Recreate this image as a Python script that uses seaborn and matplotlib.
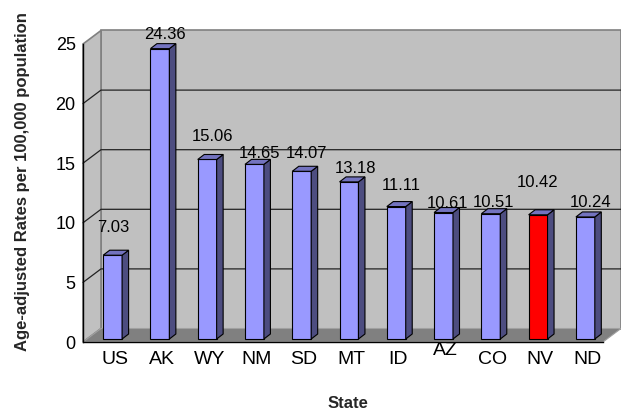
import numpy as np
import pandas as pd
import matplotlib
matplotlib.use("Agg")
import matplotlib.pyplot as plt
import matplotlib.transforms as mtransforms
from matplotlib.patches import Polygon
from matplotlib.lines import Line2D
import seaborn as sns

# ---- data -------------------------------------------------------------
states = ["US", "AK", "WY", "NM", "SD", "MT", "ID", "AZ", "CO", "NV", "ND"]
rates = [7.03, 24.36, 15.06, 14.65, 14.07, 13.18, 11.11, 10.61, 10.51, 10.42, 10.24]
highlight_state = "NV"
y_ticks = [0, 5, 10, 15, 20, 25]

# ---- layout helpers (pixels) -----------------------------------------
# nudge of each value label from its category centre / value height
value_label_nudge = [(7, 31), (11, 17), (11, 26), (11, 14), (11, 21), (12, 16),
                     (11, 24), (10, 12), (9, 14), (5, 35), (11, 17)]
raised_tick = {"AZ": 9}

WALL_DX, WALL_DY = 18, 13.5      # depth of the chart box
FRONT_DX, FRONT_DY = 6, 3        # bar front face sits inside the box
BAR_DX, BAR_DY = 6.5, 5          # bar depth

BAR_FACE = "#9999FF"
BAR_SIDE = "#4D4D80"
BAR_TOP = "#7373BF"
HILITE = "#FF0000"
WALL = "#C0C0C0"
FLOOR = "#808080"

sns.set_style("white")
plt.rcParams["font.family"] = ["Liberation Sans", "DejaVu Sans"]

fig = plt.figure(figsize=(6.21, 4.11), dpi=100)
fig.patch.set_facecolor("white")
ax = fig.add_axes([83 / 621, 69 / 411, 520 / 621, 298 / 411])
ax.set_facecolor("none")

df = pd.DataFrame({"State": states, "Rate": rates})
palette = {s: (HILITE if s == highlight_state else BAR_FACE) for s in states}
sns.barplot(data=df, x="State", y="Rate", hue="State", palette=palette,
            legend=False, width=0.4, saturation=1, edgecolor="black",
            linewidth=0.8, ax=ax, zorder=3)
bars = sorted(list(ax.patches), key=lambda p: p.get_x())

ax.set_xlim(-0.5, len(states) - 0.5)
ax.set_ylim(y_ticks[0], y_ticks[-1])


def px_shift(dx, dy):
    return mtransforms.ScaledTranslation(dx / 100, dy / 100, fig.dpi_scale_trans)


ident = mtransforms.IdentityTransform()
to_disp = ax.transData.transform

# ---- walls and floor --------------------------------------------------
x_l, y_b = to_disp((-0.5, y_ticks[0]))
x_r, y_t = to_disp((len(states) - 0.5, y_ticks[-1]))

back_wall = Polygon([(x_l + WALL_DX, y_b + WALL_DY), (x_r + WALL_DX, y_b + WALL_DY),
                     (x_r + WALL_DX, y_t + WALL_DY), (x_l + WALL_DX, y_t + WALL_DY)],
                    closed=True, fc=WALL, ec="#808080", lw=1.2, transform=ident,
                    clip_on=False, zorder=0.2)
side_wall = Polygon([(x_l, y_b), (x_l + WALL_DX, y_b + WALL_DY),
                     (x_l + WALL_DX, y_t + WALL_DY), (x_l, y_t)],
                    closed=True, fc=WALL, ec="#808080", lw=1.2, transform=ident,
                    clip_on=False, zorder=0.2)
floor = Polygon([(x_l, y_b), (x_r, y_b), (x_r + WALL_DX, y_b + WALL_DY),
                 (x_l + WALL_DX, y_b + WALL_DY)],
                closed=True, fc=FLOOR, ec="#A0A0A0", lw=0.8, transform=ident,
                clip_on=False, zorder=0.4)
for p in (back_wall, side_wall, floor):
    ax.add_patch(p)

for v in y_ticks[1:-1]:
    y = to_disp((0, v))[1]
    ax.add_line(Line2D([x_l, x_l + WALL_DX, x_r + WALL_DX],
                       [y, y + WALL_DY, y + WALL_DY],
                       color="#222222", lw=0.9, transform=ident,
                       clip_on=False, zorder=0.3))

# ---- 3-D bars ---------------------------------------------------------
for bar in bars:
    x0, w, h = bar.get_x(), bar.get_width(), bar.get_height()
    bar.set_transform(ax.transData + px_shift(FRONT_DX, FRONT_DY))
    bar.set_clip_on(False)
    X0, Y0 = to_disp((x0, 0)) + np.array([FRONT_DX, FRONT_DY])
    X1, Y1 = to_disp((x0 + w, h)) + np.array([FRONT_DX, FRONT_DY])
    side = Polygon([(X1, Y0), (X1 + BAR_DX, Y0 + BAR_DY),
                    (X1 + BAR_DX, Y1 + BAR_DY), (X1, Y1)],
                   closed=True, fc=BAR_SIDE, ec="black", lw=0.8,
                   transform=ident, clip_on=False, zorder=3)
    top = Polygon([(X0, Y1), (X1, Y1), (X1 + BAR_DX, Y1 + BAR_DY),
                   (X0 + BAR_DX, Y1 + BAR_DY)],
                  closed=True, fc=BAR_TOP, ec="black", lw=0.8,
                  transform=ident, clip_on=False, zorder=3)
    ax.add_patch(side)
    ax.add_patch(top)

# ---- value labels -----------------------------------------------------
for i, (v, (ndx, ndy)) in enumerate(zip(rates, value_label_nudge)):
    ax.annotate(f"{v:.2f}", xy=(i, v), xytext=(ndx * 0.72, ndy * 0.72),
                textcoords="offset points", ha="center", va="center",
                fontsize=12, color="black", zorder=5, annotation_clip=False)

# ---- axes -------------------------------------------------------------
for s in ("top", "right"):
    ax.spines[s].set_visible(False)
for s in ("left", "bottom"):
    ax.spines[s].set_color("black")
    ax.spines[s].set_linewidth(1.0)
    ax.spines[s].set_zorder(4)

ax.set_yticks(y_ticks)
ax.tick_params(axis="y", length=4.3, width=0.8, direction="out", pad=1,
               labelsize=13, colors="black")
ax.set_xticks(range(len(states)))
ax.set_xticklabels(states)
ax.set_xticks(np.arange(-0.5, len(states), 1.0), minor=True)
ax.tick_params(axis="x", which="major", length=0, pad=6.5, labelsize=14,
               colors="black")
ax.tick_params(axis="x", which="minor", length=3.6, width=0.8,
               direction="out", colors="black")
for lab in ax.get_xticklabels():
    lift = raised_tick.get(lab.get_text(), 0)
    lab.set_transform(lab.get_transform() + px_shift(8, lift))

ax.set_xlabel("State", fontsize=12, fontweight="bold")
ax.set_ylabel("Age-adjusted Rates per 100,000 population", fontsize=12,
              fontweight="bold")
ax.xaxis.label.set_verticalalignment("center")
ax.yaxis.label.set_verticalalignment("center")
ax.xaxis.set_label_coords((347.5 - 83) / 520, (342 - 403) / 298)
ax.yaxis.set_label_coords((23 - 83) / 520, (342 - 182) / 298)

fig.savefig("out.png", dpi=100)
